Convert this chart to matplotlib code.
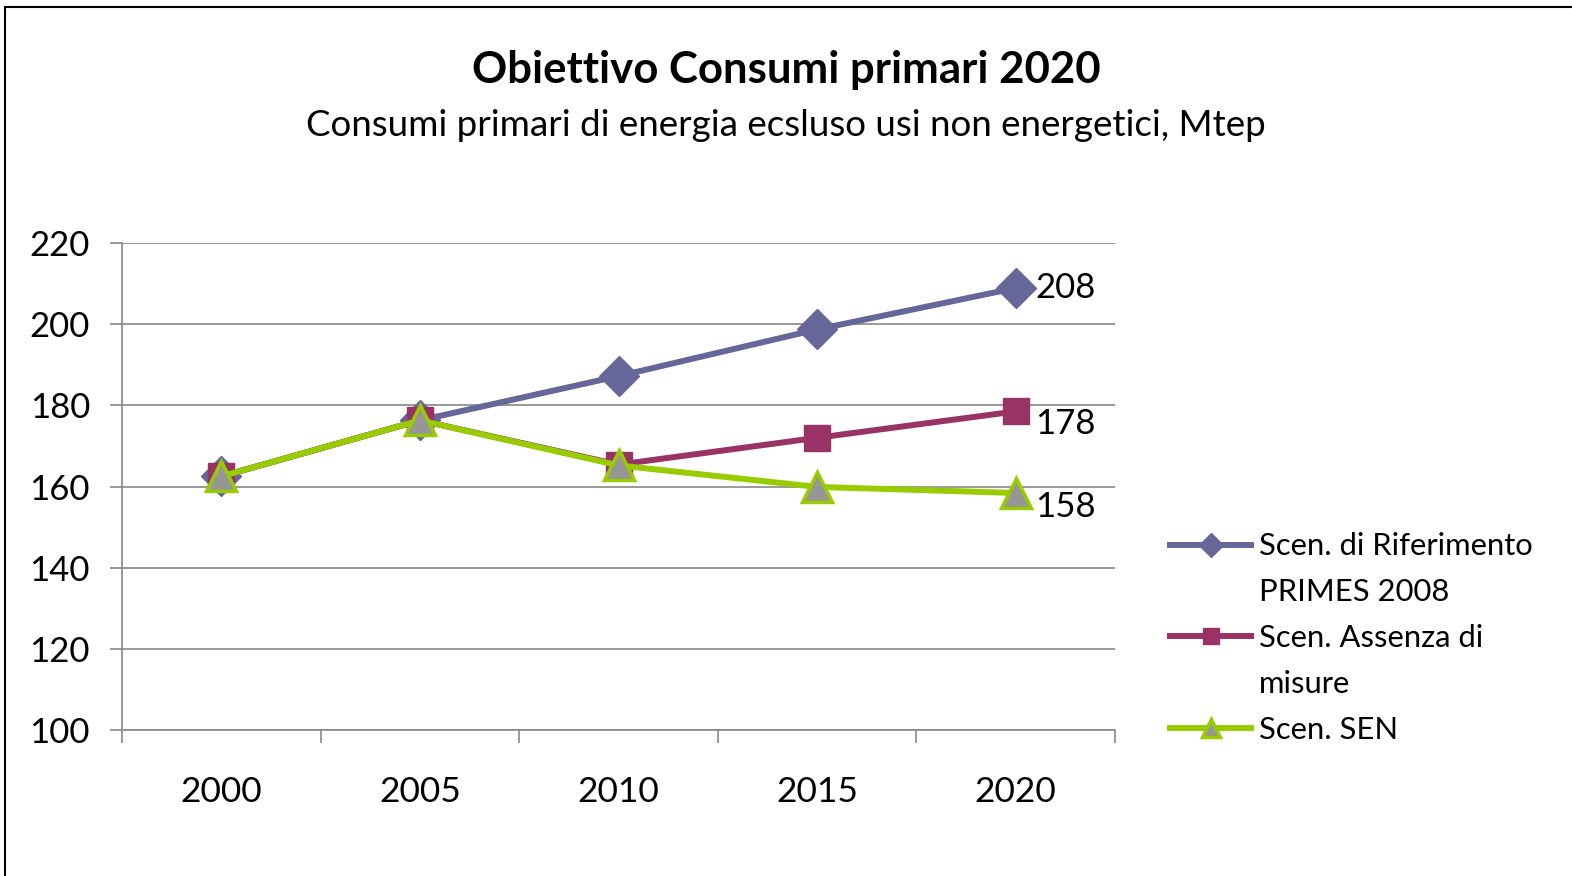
import matplotlib.pyplot as plt
import matplotlib.patches as mpatches
from matplotlib.lines import Line2D
import numpy as np

plt.rcParams['font.family'] = ['Lato', 'DejaVu Sans']

# --- dati ---
anni = ['2000', '2005', '2010', '2015', '2020']
riferimento = [162.5, 176.3, 187.2, 198.7, 208.9]
assenza = [162.5, 176.3, 165.4, 172.0, 178.5]
sen = [162.5, 176.3, 165.2, 159.9, 158.4]
etichette = ['208', '178', '158']
nomi = [['Scen. di Riferimento', 'PRIMES 2008'], ['Scen. Assenza di', 'misure'], ['Scen. SEN']]

fig = plt.figure(figsize=(15.72, 8.76), dpi=100)
ax = fig.add_axes([122 / 1572, 1 - 730 / 876, (1115 - 122) / 1572, (730 - 243) / 876])

# cornice
fig.patches.append(mpatches.Rectangle((5 / 1572, -0.1), 1.2, 1 - 7 / 876 + 0.1,
                                      transform=fig.transFigure, fill=False,
                                      edgecolor='black', linewidth=1.5))

x = np.arange(len(anni))
lw = 4.3
l1, = ax.plot(x, riferimento, color='#666699', lw=lw, marker='D', ms=20,
              mfc='#666699', mec='#666699', zorder=3)
l2, = ax.plot(x, assenza, color='#993366', lw=lw, marker='s', ms=19,
              mfc='#993366', mec='#993366', zorder=4)
l3, = ax.plot(x, sen, color='#99cc00', lw=lw, marker='^', ms=22, mew=2.5,
              mfc='#969696', mec='#99cc00', zorder=5)

# etichette dati
for serie, testo, dy in zip([riferimento, assenza, sen], etichette, [0, -9, -10]):
    ax.annotate(testo, (x[-1], serie[-1]), xytext=(14, dy), textcoords='offset points',
                ha='left', va='center', fontsize=25)

ax.set_xlim(-0.5, 4.5)
ax.set_ylim(100, 220)
ax.set_yticks(np.arange(100, 221, 20))
ax.set_xticks(x)
ax.set_xticklabels(anni)
ax.set_xticks(np.arange(-0.5, 4.6, 1), minor=True)
ax.tick_params(axis='x', which='major', length=0, pad=33, labelsize=25.5)
ax.tick_params(axis='x', which='minor', length=9, color='#888888', width=1.2)
ax.tick_params(axis='y', length=9, color='#888888', width=1.2, labelsize=25, pad=14)
ax.grid(axis='y', color='#888888', lw=1.2)
ax.set_axisbelow(True)
for s in ['top', 'right']:
    ax.spines[s].set_visible(False)
for s in ['left', 'bottom']:
    ax.spines[s].set_color('#888888')
    ax.spines[s].set_linewidth(1.2)

fig.text(0.5, 1 - 70 / 876, 'Obiettivo Consumi primari 2020', ha='center', va='center',
         fontsize=31.5, fontweight='bold')
fig.text(0.5, 1 - 126 / 876, 'Consumi primari di energia ecsluso usi non energetici, Mtep',
         ha='center', va='center', fontsize=26.5)

# legenda: la seconda riga di ogni voce come voce senza simbolo
vuoto = Line2D([], [], color='none')
handles, labels = [], []
for linea, righe in zip([l1, l2, l3], nomi):
    handles.append(linea)
    labels.append(righe[0])
    for r in righe[1:]:
        handles.append(vuoto)
        labels.append(r)
fig.legend(handles, labels, loc='upper left', bbox_to_anchor=(1158 / 1572, 1 - 520 / 876),
           frameon=False, fontsize=22.3, handlelength=2.6, handletextpad=0.25,
           labelspacing=0.58, markerscale=0.6, borderaxespad=0)

plt.savefig('out.png', dpi=100)
